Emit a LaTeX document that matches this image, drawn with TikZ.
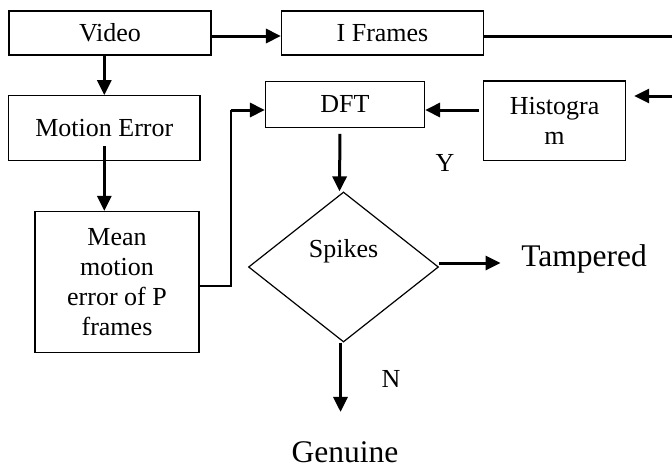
\documentclass[tikz,border=0pt]{standalone}
\usepackage{fontspec}
\setmainfont{Liberation Serif}
\usetikzlibrary{arrows.meta,shapes.geometric,calc}
\begin{document}
\begin{tikzpicture}[x=1pt,y=-1pt,
  box/.style={draw,line width=1.2pt,inner sep=0pt,align=center,font=\fontsize{26}{30}\selectfont},
  arr/.style={line width=3pt,-{Triangle[length=15pt,width=14pt]}},
  thinline/.style={line width=1.2pt},
  lbl/.style={inner sep=0pt,font=\fontsize{26}{30}\selectfont},
  big/.style={inner sep=0pt,anchor=base,font=\fontsize{31.5}{36}\selectfont}]
\useasboundingbox (0,0) rectangle (672,469);
% boxes
\node[box,minimum width=202pt,minimum height=44pt] (video) at (110,33) {Video};
\node[box,minimum width=202pt,minimum height=44pt] (iframes) at (382.5,33) {I Frames};
\node[box,minimum width=191.5pt,minimum height=65pt] (motion) at (104.3,128.2) {Motion Error};
\node[box,minimum width=164pt,minimum height=141pt] (mean) at (117,282) {Mean\\motion\\error of P\\frames};
\node[box,minimum width=159pt,minimum height=45.6pt] (dft) at (345,104.5) {DFT};
\node[box,minimum width=142pt,minimum height=79.7pt] (hist) at (554.6,120.8) {Histogra\\m};
\node[draw,diamond,line width=1.2pt,minimum width=190pt,minimum height=150pt,inner sep=0pt] (spk) at (343.5,267) {};
\node[lbl] (spktxt) at (343.5,251.7) {Spikes};
\node[big] (tamp) at (584,266.5) {Tampered};
\node[big] (gen) at (345,462) {Genuine};
\node[lbl] (ylbl) at (445,163) {Y};
\node[lbl] (nlbl) at (391,379) {N};
% helper coordinates
\coordinate (r1) at (672,36);
\coordinate (r2) at (672,96);
\coordinate (c1) at (231,110);
\coordinate (dfte) at ([yshift=-5.5pt]dft.east);
% connectors
\draw[arr] ([yshift=-3pt]video.east) -- ([yshift=-3pt]iframes.west);
\draw[line width=3pt] ([yshift=-3pt]iframes.east) -- (r1);
\draw[arr,shorten >=8pt] (r2) -- (r2 -| hist.east);
\draw[arr,shorten <=4pt] (hist.west |- dfte) -- (dfte);
\draw[arr] (motion.north |- video.south) -- (motion.north);
\draw[arr] ($(motion.south)+(0,-15)$) -- (mean.north -| motion.south);
\draw[thinline] ([yshift=-4pt]mean.east) -| (c1);
\draw[arr] (c1) -- (c1 -| dft.west);
\draw[arr,shorten <=6pt] ([xshift=-5pt]dft.south) -- ([xshift=-4pt]spk.north);
\draw[arr] ([yshift=4pt]spk.east) -- ([yshift=4pt]spk.east -| 500.6,0);
\draw[arr,shorten >=29pt] ([xshift=-3pt]spk.south) -- ([xshift=-3pt]spk.south |- gen.north);
\end{tikzpicture}
\end{document}
